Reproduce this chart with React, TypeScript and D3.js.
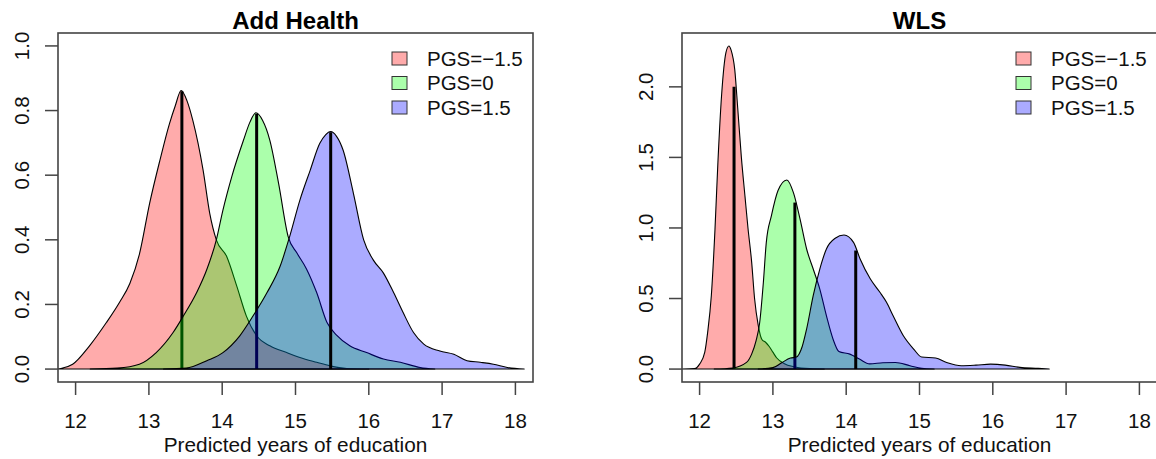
import React from 'react';
import * as d3 from 'd3';

// ---------- data ----------
const xTicks = [12, 13, 14, 15, 16, 17, 18];
const ahYTicks = [0, 0.2, 0.4, 0.6, 0.8, 1.0];
const wlsYTicks = [0, 0.5, 1.0, 1.5, 2.0];
const legendLabels = ['PGS=\u22121.5', 'PGS=0', 'PGS=1.5'];
const panelTitles = ['Add Health', 'WLS'];
const xLabel = 'Predicted years of education';
const xLim = [12, 18];
const ahYLim = [0, 1];
const wlsYLim = [0, 2.29];

type Pt = [number, number];

const ahLow: Pt[] = [
  [11.7, 0], [11.8, 0.002], [11.96, 0.015], [12.19, 0.072], [12.42, 0.144], [12.6, 0.207],
  [12.74, 0.265], [12.87, 0.355], [13.01, 0.513], [13.15, 0.646], [13.28, 0.759], [13.36, 0.815],
  [13.44, 0.862], [13.52, 0.83], [13.6, 0.769], [13.74, 0.615], [13.83, 0.482], [13.92, 0.4],
  [14.06, 0.349], [14.2, 0.256], [14.33, 0.164], [14.47, 0.103], [14.65, 0.072], [14.88, 0.051],
  [15.06, 0.036], [15.29, 0.021], [15.47, 0.01], [15.7, 0.002], [16.0, 0],
];
const ahMid: Pt[] = [
  [12.2, 0], [12.57, 0.003], [12.87, 0.015], [13.1, 0.051], [13.33, 0.113], [13.47, 0.164],
  [13.65, 0.236], [13.79, 0.308], [13.92, 0.4], [14.01, 0.492], [14.13, 0.595], [14.29, 0.708],
  [14.38, 0.765], [14.46, 0.793], [14.55, 0.77], [14.65, 0.708], [14.77, 0.574], [14.9, 0.41],
  [15.02, 0.359], [15.15, 0.31], [15.29, 0.236], [15.43, 0.144], [15.56, 0.105], [15.74, 0.072],
  [15.97, 0.051], [16.2, 0.031], [16.43, 0.021], [16.7, 0.005], [16.9, 0],
];
const ahHigh: Pt[] = [
  [13.2, 0], [13.51, 0.003], [13.79, 0.026], [14.01, 0.051], [14.24, 0.103], [14.42, 0.164],
  [14.61, 0.236], [14.79, 0.318], [14.92, 0.41], [15.06, 0.523], [15.2, 0.615], [15.33, 0.698],
  [15.41, 0.725], [15.48, 0.735], [15.56, 0.72], [15.65, 0.677], [15.79, 0.544], [15.93, 0.4],
  [16.06, 0.338], [16.2, 0.297], [16.34, 0.236], [16.47, 0.174], [16.61, 0.113], [16.75, 0.077],
  [16.97, 0.056], [17.16, 0.046], [17.34, 0.026], [17.52, 0.021], [17.7, 0.015], [17.89, 0.005],
  [18.12, 0],
];
const ahMeans = [13.45, 14.47, 15.48];
const ahMeanHeights = [0.86, 0.79, 0.733];

const wlsLow: Pt[] = [
  [11.7, 0], [11.93, 0.003], [12.0, 0.035], [12.07, 0.118], [12.11, 0.26], [12.16, 0.52],
  [12.21, 0.99], [12.25, 1.466], [12.3, 1.94], [12.36, 2.245], [12.4, 2.29], [12.43, 2.26],
  [12.48, 2.12], [12.52, 1.85], [12.57, 1.5], [12.62, 1.22], [12.66, 1.0], [12.71, 0.76],
  [12.75, 0.5], [12.8, 0.31], [12.85, 0.21], [12.9, 0.19], [12.95, 0.16], [13.0, 0.12],
  [13.05, 0.08], [13.15, 0.04], [13.3, 0.015], [13.5, 0.003], [13.7, 0],
];
const wlsMid: Pt[] = [
  [12.2, 0], [12.45, 0.008], [12.64, 0.047], [12.71, 0.106], [12.77, 0.2], [12.82, 0.33],
  [12.87, 0.615], [12.91, 0.898], [12.98, 1.087], [13.07, 1.265], [13.19, 1.34], [13.28, 1.25],
  [13.37, 1.064], [13.46, 0.851], [13.55, 0.709], [13.64, 0.567], [13.73, 0.378], [13.82, 0.213],
  [13.9, 0.125], [14.05, 0.106], [14.18, 0.071], [14.32, 0.037], [14.5, 0.045], [14.67, 0.047],
  [14.87, 0.024], [15.03, 0.005], [15.2, 0],
];
const wlsHigh: Pt[] = [
  [12.8, 0], [13.0, 0.01], [13.12, 0.045], [13.24, 0.078], [13.32, 0.085], [13.4, 0.16],
  [13.46, 0.284], [13.55, 0.52], [13.64, 0.709], [13.73, 0.851], [13.85, 0.927], [13.97, 0.95],
  [14.1, 0.898], [14.19, 0.78], [14.33, 0.638], [14.46, 0.544], [14.55, 0.473], [14.64, 0.378],
  [14.78, 0.236], [14.92, 0.142], [15.03, 0.085], [15.22, 0.078], [15.37, 0.047], [15.57, 0.024],
  [15.77, 0.028], [15.97, 0.035], [16.17, 0.028], [16.37, 0.012], [16.62, 0.005], [16.77, 0],
];
const wlsMeans = [12.47, 13.3, 14.13];
const wlsMeanHeights = [2.0, 1.18, 0.84];

// ---------- styles ----------
const fillColors = ['rgba(255,0,0,0.33)', 'rgba(0,255,0,0.33)', 'rgba(0,0,255,0.33)'];
const FONT = '"Liberation Sans", Arial, Helvetica, sans-serif';
const AXIS = '#444';

const W = 1156;
const H = 459;
const BOX_W = 475;
const BOX_TOP = 33;
const BOX_BOTTOM = 382;
const BOX_LEFTS = [58, 682];

type PanelProps = {
  idx: number;
  left: number;
  title: string;
  series: Pt[][];
  means: number[];
  meanHeights: number[];
  yLim: number[];
  yTicks: number[];
};

function Panel({ idx, left, title, series, means, meanHeights, yLim, yTicks }: PanelProps) {
  const xr = xLim[1] - xLim[0];
  const yr = yLim[1] - yLim[0];
  const x = d3.scaleLinear().domain([xLim[0] - 0.04 * xr, xLim[1] + 0.04 * xr]).range([left, left + BOX_W]);
  const y = d3.scaleLinear().domain([yLim[0] - 0.04 * yr, yLim[1] + 0.04 * yr]).range([BOX_BOTTOM, BOX_TOP]);
  const area = d3.area<Pt>().x(d => x(d[0])).y0(y(0)).y1(d => y(d[1])).curve(d3.curveMonotoneX);
  const clipId = `clip-${idx}`;
  const cx = left + BOX_W / 2;
  const fmt = d3.format('.1f');
  const legX = left + 334;
  const legRows = [58.5, 83, 107.5];

  return (
    <g>
      <defs>
        <clipPath id={clipId}>
          <rect x={left} y={BOX_TOP} width={BOX_W} height={BOX_BOTTOM - BOX_TOP} />
        </clipPath>
      </defs>
      <g clipPath={`url(#${clipId})`}>
        {series.map((s, i) => (
          <g key={i}>
            <path d={area(s) || ''} fill={fillColors[i]} stroke="#000" strokeWidth={1.1} strokeLinejoin="round" />
            <line x1={x(means[i])} x2={x(means[i])} y1={y(0)} y2={y(meanHeights[i])} stroke="#000" strokeWidth={3} />
          </g>
        ))}
      </g>
      {/* box */}
      <rect x={left} y={BOX_TOP} width={BOX_W} height={BOX_BOTTOM - BOX_TOP} fill="none" stroke={AXIS} strokeWidth={1.6} />
      {/* x axis */}
      {xTicks.map(t => (
        <g key={t}>
          <line x1={x(t)} x2={x(t)} y1={BOX_BOTTOM} y2={BOX_BOTTOM + 13} stroke={AXIS} strokeWidth={1.5} />
          <text x={x(t)} y={428} textAnchor="middle" fontFamily={FONT} fontSize={20.5} fill="#111">{t}</text>
        </g>
      ))}
      {/* y axis */}
      {yTicks.map(t => (
        <g key={t}>
          <line x1={left - 13} x2={left} y1={y(t)} y2={y(t)} stroke={AXIS} strokeWidth={1.5} />
          <text transform={`translate(${left - 29},${y(t)}) rotate(-90)`} textAnchor="middle" fontFamily={FONT} fontSize={20.5} fill="#111">{fmt(t)}</text>
        </g>
      ))}
      <text x={cx} y={29} textAnchor="middle" fontFamily={FONT} fontSize={24} fontWeight="bold" fill="#000">{title}</text>
      <text x={cx} y={452} textAnchor="middle" fontFamily={FONT} fontSize={20.8} fill="#111">{xLabel}</text>
      {/* legend */}
      {legendLabels.map((lab, i) => (
        <g key={lab}>
          <rect x={legX} y={legRows[i] - 6.5} width={15} height={13} fill={fillColors[i]} stroke="#333" strokeWidth={1} />
          <text x={legX + 35} y={legRows[i] + 7} fontFamily={FONT} fontSize={20.5} fill="#111">{lab}</text>
        </g>
      ))}
    </g>
  );
}

export default function App() {
  return (
    <svg width={W} height={H} style={{ position: 'absolute', left: 0, top: 0, display: 'block', background: '#fff' }}>
      <rect x={0} y={0} width={W} height={H} fill="#fff" />
      <Panel idx={0} left={BOX_LEFTS[0]} title={panelTitles[0]} series={[ahLow, ahMid, ahHigh]}
        means={ahMeans} meanHeights={ahMeanHeights} yLim={ahYLim} yTicks={ahYTicks} />
      <Panel idx={1} left={BOX_LEFTS[1]} title={panelTitles[1]} series={[wlsLow, wlsMid, wlsHigh]}
        means={wlsMeans} meanHeights={wlsMeanHeights} yLim={wlsYLim} yTicks={wlsYTicks} />
    </svg>
  );
}
